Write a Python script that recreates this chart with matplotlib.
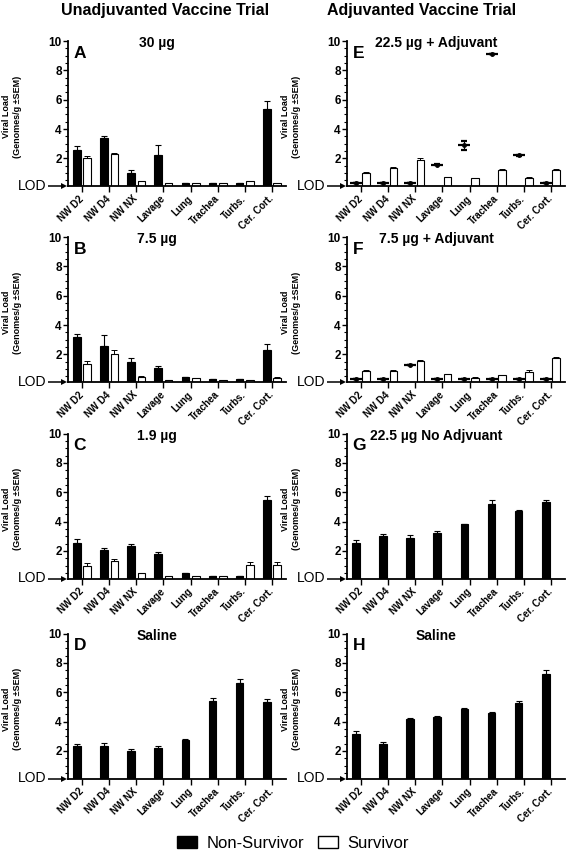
import numpy as np
import matplotlib
matplotlib.use('Agg')
import matplotlib.pyplot as plt
import matplotlib.transforms as mtransforms
from matplotlib.patches import Patch
from matplotlib.ticker import MultipleLocator

plt.rcParams['font.family'] = ['Liberation Sans', 'DejaVu Sans']

# 数据
tissues = ['NW D2', 'NW D4', 'NW NX', 'Lavage', 'Lung', 'Trachea', 'Turbs.', 'Cer. Cort.']

# A: 30 µg
a_ns = [2.6, 3.4, 0.98, 2.22, 0.33, 0.33, 0.33, 5.4]
a_ns_err = [0.27, 0.13, 0.2, 0.68, 0, 0, 0, 0.5]
a_s = [2.0, 2.29, 0.46, 0.3, 0.3, 0.3, 0.46, 0.3]
a_s_err = [0.18, 0.1, 0.03, 0, 0, 0, 0.03, 0]

# B: 7.5 µg
b_ns = [3.19, 2.6, 1.5, 1.06, 0.47, 0.3, 0.3, 2.3]
b_ns_err = [0.18, 0.7, 0.25, 0.18, 0.02, 0, 0, 0.4]
b_s = [1.38, 2.0, 0.47, 0.28, 0.42, 0.28, 0.28, 0.4]
b_s_err = [0.2, 0.27, 0.03, 0, 0, 0, 0, 0.03]

# C: 1.9 µg
c_ns = [2.53, 2.05, 2.32, 1.82, 0.5, 0.3, 0.3, 5.45]
c_ns_err = [0.27, 0.15, 0.18, 0.1, 0, 0, 0, 0.27]
c_s = [1.0, 1.3, 0.47, 0.28, 0.28, 0.28, 1.06, 1.04]
c_s_err = [0.15, 0.15, 0.05, 0, 0, 0, 0.2, 0.18]

# D: Saline
d_ns = [2.32, 2.32, 2.02, 2.2, 2.75, 5.4, 6.6, 5.34]
d_ns_err = [0.16, 0.2, 0.1, 0.14, 0.07, 0.18, 0.3, 0.2]

# E: 22.5 µg + Adjuvant (non-survivors drawn as points)
e_ns = [0.35, 0.35, 0.35, 1.57, 2.88, 9.1, 2.2, 0.35]
e_ns_err = [0, 0, 0, 0.03, 0.3, 0, 0.03, 0]
e_s = [1.0, 1.32, 1.91, 0.7, 0.64, 1.19, 0.67, 1.23]
e_s_err = [0.07, 0.08, 0.14, 0.05, 0, 0.1, 0.04, 0.06]

# F: 7.5 µg + Adjuvant
f_ns = [0.34, 0.34, 1.25, 0.34, 0.34, 0.34, 0.34, 0.34]
f_ns_err = [0, 0, 0, 0, 0, 0, 0, 0]
f_s = [0.89, 0.89, 1.55, 0.64, 0.41, 0.57, 0.82, 1.75]
f_s_err = [0.04, 0.04, 0.08, 0.03, 0.02, 0.03, 0.1, 0.1]

# G: 22.5 µg No Adjuvant
g_ns = [2.52, 3.02, 2.91, 3.23, 3.8, 5.19, 4.7, 5.3]
g_ns_err = [0.23, 0.16, 0.14, 0.16, 0.05, 0.27, 0.1, 0.2]

# H: Saline
h_ns = [3.12, 2.46, 4.19, 4.3, 4.87, 4.55, 5.24, 7.26]
h_ns_err = [0.23, 0.16, 0.05, 0.1, 0.06, 0.08, 0.14, 0.23]

panels = [
    ('A', '30 µg', a_ns, a_ns_err, a_s, a_s_err, 'bar'),
    ('B', '7.5 µg', b_ns, b_ns_err, b_s, b_s_err, 'bar'),
    ('C', '1.9 µg', c_ns, c_ns_err, c_s, c_s_err, 'bar'),
    ('D', 'Saline', d_ns, d_ns_err, None, None, 'bar'),
    ('E', '22.5 µg + Adjuvant', e_ns, e_ns_err, e_s, e_s_err, 'point'),
    ('F', '7.5 µg + Adjuvant', f_ns, f_ns_err, f_s, f_s_err, 'point'),
    ('G', '22.5 µg No Adjvuant', g_ns, g_ns_err, None, None, 'bar'),
    ('H', 'Saline', h_ns, h_ns_err, None, None, 'bar'),
]

Y0 = 0.12
W = 0.28
OFF = 0.19

fig = plt.figure(figsize=(5.72, 8.52), dpi=100)

col_x = [68 / 572, 347 / 572]
row_top = [41, 237, 433.5, 633.5]
ax_w = 218 / 572
ax_h = 145 / 852

x = np.arange(len(tissues))

for i, (letter, title, ns, ns_err, s, s_err, kind) in enumerate(panels):
    col, row = divmod(i, 4)
    bottom = 1 - (row_top[row] + 145) / 852
    ax = fig.add_axes([col_x[col], bottom, ax_w, ax_h])

    ns = np.array(ns)
    if kind == 'bar':
        ax.bar(x - OFF, ns - Y0, W, bottom=Y0, color='black', edgecolor='black', lw=0.8, zorder=2)
        ax.errorbar(x - OFF, ns, yerr=[np.zeros(len(ns)), ns_err], fmt='none',
                    ecolor='black', elinewidth=0.8, capsize=2, capthick=0.8, zorder=3)
    else:
        ax.errorbar(x - OFF, ns, yerr=ns_err, fmt='_', color='black', ms=8, mew=1.6,
                    elinewidth=0.8, capsize=2, capthick=0.8, zorder=3)
        ax.plot(x - OFF, ns, 'o', color='black', ms=2.5, zorder=4)
    if s is not None:
        s = np.array(s)
        ax.bar(x + OFF, s - Y0, W, bottom=Y0, color='white', edgecolor='black', lw=0.8, zorder=2)
        ax.errorbar(x + OFF, s, yerr=[np.zeros(len(s)), s_err], fmt='none',
                    ecolor='black', elinewidth=0.7, capsize=2, capthick=0.7, zorder=1)

    ax.set_xlim(-0.52, 7.52)
    ax.set_ylim(Y0, 10)
    ax.spines['top'].set_visible(False)
    ax.spines['right'].set_visible(False)
    ax.spines['left'].set_linewidth(1.3)
    ax.spines['bottom'].set_linewidth(1.3)

    ax.set_yticks([2, 4, 6, 8, 10])
    ax.yaxis.set_minor_locator(MultipleLocator(0.5))
    ax.tick_params(axis='y', which='major', length=3.5, width=1, labelsize=8.5, pad=1)
    ax.tick_params(axis='y', which='minor', length=2, width=0.8)
    for lab in ax.get_yticklabels():
        lab.set_fontweight('bold')

    ax.set_xticks(x)
    ax.set_xticklabels(tissues, rotation=45, ha='right', va='center',
                       rotation_mode='anchor', fontsize=7, fontweight='bold')
    ax.tick_params(axis='x', length=4, width=1, pad=4)

    ax.text(0.41, 0.985, title, transform=ax.transAxes, ha='center', va='center',
            fontsize=10, fontweight='bold')
    ax.text(0.025, 0.917, letter, transform=ax.transAxes, ha='left', va='center',
            fontsize=12.5, fontweight='bold')

    ax.text(-0.255, 0.48, 'Viral Load\n(Genomes/g ±SEM)', transform=ax.transAxes,
            rotation=90, ha='center', va='center', fontsize=6.5, fontweight='bold',
            linespacing=1.3)

    # LOD 标记和箭头（x 用坐标轴比例，y 用数据坐标）
    trans = mtransforms.blended_transform_factory(ax.transAxes, ax.transData)
    ax.text(-0.1, Y0, 'LOD', transform=trans, ha='right', va='center', fontsize=10)
    ax.plot([-0.094, -0.02], [Y0, Y0], color='black', lw=1.1, transform=trans,
            clip_on=False, solid_capstyle='butt')
    ax.plot([-0.02], [Y0], marker='>', color='black', ms=4.5, mew=0,
            transform=trans, clip_on=False)

fig.text(165 / 572, 1 - 11 / 852, 'Unadjuvanted Vaccine Trial', ha='center', va='center',
         fontsize=11.5, fontweight='bold')
fig.text(422 / 572, 1 - 11 / 852, 'Adjuvanted Vaccine Trial', ha='center', va='center',
         fontsize=11.5, fontweight='bold')

handles = [Patch(facecolor='black', edgecolor='black', label='Non-Survivor'),
           Patch(facecolor='white', edgecolor='black', label='Survivor')]
fig.legend(handles=handles, loc='center', bbox_to_anchor=(0.512, 1 - 843 / 852), ncol=2,
           frameon=False, fontsize=12, handlelength=1.2, handleheight=0.7,
           columnspacing=0.8, handletextpad=0.6, borderpad=0)

fig.savefig('out.png', dpi=100)
